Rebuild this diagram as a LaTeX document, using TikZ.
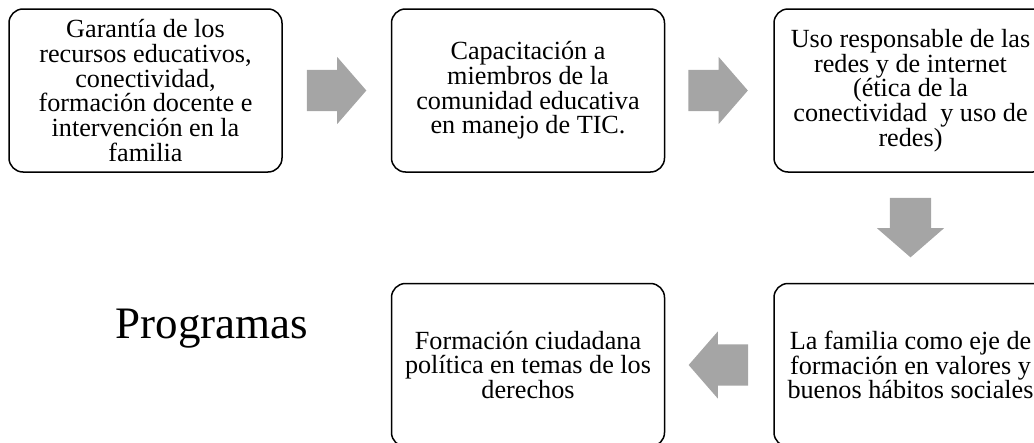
\documentclass[tikz,border=0pt]{standalone}
\usepackage{fontspec}
\setmainfont{Liberation Serif}
\usetikzlibrary{positioning,shapes.arrows}
\definecolor{flecha}{HTML}{A5A5A5}
\begin{document}
\begin{tikzpicture}[x=1pt, y=-1pt,
    caja/.style={draw, line width=1.5pt, rounded corners=14pt, minimum width=273pt, minimum height=163pt, inner sep=0pt, align=center, font=\fontsize{26.2}{24.7}\selectfont},
    flechita/.style={single arrow, fill=flecha, draw=none, inner sep=20.5pt, minimum height=58pt, single arrow head extend=13pt, single arrow tip angle=98}]
        \useasboundingbox (0,0) rectangle (1034,442);

        \node[caja] (b1) at (145.5,90.5) {Garantía de los\\recursos educativos,\\conectividad,\\formación docente e\\intervención en la\\familia};
        \node[caja, right=108pt of b1] (b2) {Capacitación a\\miembros de la\\comunidad educativa\\en manejo de TIC.};
        \node[caja, right=108pt of b2] (b3) {Uso responsable de las\\redes y de internet\\(ética de la\\conectividad~ y uso de\\redes)};
        \node[caja, below=110pt of b3] (b5) {La familia como eje de\\formación en valores y\\buenos hábitos sociales};
        \node[caja, left=108pt of b5] (b4) {Formación ciudadana\\política en temas de los\\derechos};

        \node[flechita, right=24pt of b1] (f1) {};
        \node[flechita, right=23pt of b2] (f2) {};
        \node[flechita, shape border rotate=270, below=25pt of b3] (f3) {};
        \node[flechita, shape border rotate=180, left=25pt of b5] (f4) {};

        \node[anchor=base west, font=\fontsize{45}{50}\selectfont] (titulo) at (112,338) {Programas};
\end{tikzpicture}
\end{document}
